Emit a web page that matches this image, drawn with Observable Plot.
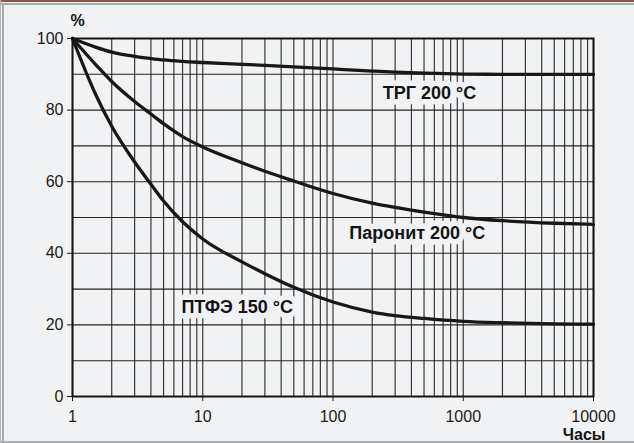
<!DOCTYPE html>
<html><head><meta charset="utf-8">
<script src="https://cdn.jsdelivr.net/npm/d3@7"></script>
<script src="https://cdn.jsdelivr.net/npm/@observablehq/plot@0.6"></script>
<style>
html,body{margin:0;padding:0;background:#f1f2f4;width:634px;height:443px;overflow:hidden;}
#chart{position:absolute;left:0;top:0;}
.deco{position:absolute;}
</style></head><body>
<div id="chart"></div>
<div class="deco" style="left:0;top:0;width:634px;height:2px;background:#8a5645"></div>
<div class="deco" style="left:0;top:3px;width:634px;height:2px;background:#a9aaac"></div>
<div class="deco" style="left:0;top:0;width:1px;height:443px;background:#b5b6b8"></div>
<div class="deco" style="left:2px;top:3px;width:2px;height:440px;background:#a9aaac"></div>
<div class="deco" style="left:0;top:441px;width:634px;height:2px;background:#b0b1b3"></div>
<script>
// Hours (x, log scale)
const hours = [1, 1.5, 2, 3, 4, 5, 7, 10, 20, 30, 50, 100, 200, 300, 500, 1000, 2000, 5000, 10000];
// Retained value, %
const trg200     = [100, 97.6, 96.2, 95.0, 94.4, 94.0, 93.6, 93.3, 92.8, 92.5, 92.1, 91.5, 90.9, 90.6, 90.3, 90.05, 90.0, 90.0, 90.0];
const paronit200 = [100, 92.8, 88.0, 82.4, 78.9, 76.2, 72.6, 69.7, 65.3, 62.9, 60.2, 56.7, 54.0, 52.8, 51.5, 50.0, 49.1, 48.4, 48.1];
const ptfe150    = [100, 84.5, 75.5, 65.5, 59.3, 54.6, 48.8, 44.0, 37.6, 34.3, 30.5, 26.4, 23.6, 22.6, 21.8, 21.0, 20.6, 20.3, 20.2];

const seriesNames = ["ТРГ 200 °C", "Паронит 200 °C", "ПТФЭ 150 °C"];
const labelHours   = [550, 444, 18.4];
const labelPercent = [84.6, 45.5, 24.9];

const xTicks = [1, 10, 100, 1000, 10000];
const xTickLabels = ["1", "10", "100", "1000", "10000"];
const yTicks = [0, 20, 40, 60, 80, 100];
const yGrid = [0, 10, 20, 30, 40, 50, 60, 70, 80, 90, 100];
const yUnit = "%";
const xUnit = "Часы";

const allSeries = [trg200, paronit200, ptfe150];
const rows = allSeries.flatMap((vals, s) => hours.map((h, i) => ({series: seriesNames[s], h, v: vals[i]})));
const labels = seriesNames.map((t, i) => ({t, h: labelHours[i], v: labelPercent[i]}));

const font = "Liberation Sans, Arial, Helvetica, sans-serif";
const chart = Plot.plot({
  width: 634,
  height: 443,
  marginLeft: 72,
  marginRight: 41,
  marginTop: 38,
  marginBottom: 47,
  style: {background: "transparent", fontFamily: font, fontSize: "16px", color: "#1a1a1a"},
  x: {type: "log", domain: [1, 10000]},
  y: {domain: [0, 100]},
  marks: [
    Plot.gridX({ticks: 40, stroke: "#262626", strokeOpacity: 0.9, strokeWidth: 1.2}),
    Plot.gridY(yGrid, {stroke: "#1a1a1a", strokeOpacity: 0.95, strokeWidth: 1.1}),
    Plot.text(labels, {x: "h", y: "v", text: "t", fontFamily: font, fontWeight: "bold", fontSize: 18,
      fill: "#141414", stroke: "#f1f2f4", strokeWidth: 11, strokeLinejoin: "round", paintOrder: "stroke"}),
    Plot.line(rows, {x: "h", y: "v", z: "series", curve: "monotone-x", stroke: "#181818", strokeWidth: 3.3}),
    Plot.frame({stroke: "#151515", strokeWidth: 2}),
    Plot.axisY({ticks: yTicks, tickSize: 5, tickPadding: 4, label: null, fontSize: 16}),
    Plot.axisX({ticks: xTicks, tickFormat: d => xTickLabels[xTicks.indexOf(d)], tickSize: 5, tickPadding: 9, label: null, fontSize: 16}),
    Plot.text([yUnit], {frameAnchor: "top-left", text: d => d, dx: 5, dy: -13, textAnchor: "middle", lineAnchor: "bottom", fontWeight: "bold", fontSize: 16, fill: "#141414"}),
    Plot.text([xUnit], {frameAnchor: "bottom-right", text: d => d, dx: 12, dy: 43, textAnchor: "end", lineAnchor: "bottom", fontWeight: "bold", fontSize: 16, fill: "#141414"})
  ]
});
document.getElementById("chart").appendChild(chart);
</script>
</body></html>
